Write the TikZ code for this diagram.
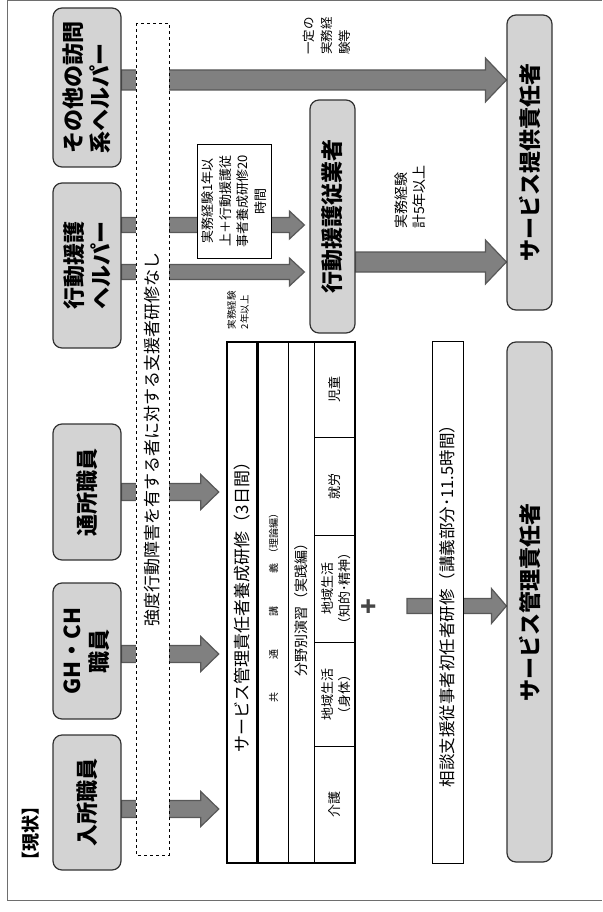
\documentclass[tikz,border=0pt]{standalone}
\usepackage{fontspec}
\setmainfont{Noto Sans CJK JP}
\usetikzlibrary{calc,backgrounds}

\definecolor{boxgray}{RGB}{211,211,211}
\definecolor{boxline}{RGB}{50,50,50}
\definecolor{arrowgray}{RGB}{128,128,128}
\definecolor{arrowline}{RGB}{88,88,88}
\definecolor{framegray}{RGB}{110,110,110}
\definecolor{plusgray}{RGB}{70,70,70}

\tikzset{
  fatarrow/.style n args={3}{fill=arrowgray, draw=arrowline, line width=1.2pt,
    to path={let \p1=(\tikztostart), \p2=(\tikztotarget) in
      (\x1,\y1+#1) -- (\x2-#3,\y1+#1) -- (\x2-#3,\y1+#2) -- (\x2,\y1)
      -- (\x2-#3,\y1-#2) -- (\x2-#3,\y1-#1) -- (\x1,\y1-#1) -- cycle}},
  bigarrow/.style={fatarrow={10pt}{22pt}{21pt}},
  midarrow/.style={fatarrow={8.5pt}{17.5pt}{18pt}},
  smallarrow/.style={fatarrow={7.5pt}{14pt}{15pt}},
}

\begin{document}
\begin{tikzpicture}[x=1pt,y=-1pt]
    \useasboundingbox (0,0) rectangle (602,912);
    \draw[framegray, line width=1.2pt] (602,0.6) -- (7.5,0.6) -- (7.5,900.5) -- (602,900.5);

    \node[rotate=90, font=\fontsize{18}{18}\selectfont\bfseries] (genjo) at (31,833) {【現状】};

    \begin{scope}[every node/.style={rotate=90, draw=boxline, line width=1.2pt, fill=boxgray,
                  rounded corners=9pt, inner sep=0pt, font=\fontsize{22}{27}\selectfont\bfseries}]
        \node[minimum width=159pt, minimum height=68pt, align=left] (sonota) at (87,87.5) {その他の訪問\\系ヘルパー};
        \node[minimum width=165pt, minimum height=68pt, align=left] (kodohelper) at (87,265.5) {行動援護\\ヘルパー};
        \node[minimum width=136pt, minimum height=68pt] (tsusho) at (87,492) {通所職員};
        \node[minimum width=136pt, minimum height=68pt, align=center] (ghch) at (87,651) {GH・CH\\職員};
        \node[minimum width=135pt, minimum height=68pt] (nyusho) at (87,802.5) {入所職員};
        \node[minimum width=233pt, minimum height=45pt] (kodojugyo) at (332.5,216.5) {行動援護従業者};
        \node[minimum width=295pt, minimum height=45pt] (teikyo) at (529.5,162.5) {サービス提供責任者};
        \node[minimum width=520pt, minimum height=45pt] (kanri) at (529.5,602) {サービス管理責任者};
    \end{scope}

    \node[rotate=90, draw, dashed, fill=white, minimum width=832pt, minimum height=33pt, inner sep=0pt,
          font=\fontsize{17}{20}\selectfont] (kyodo) at (152.5,439) {強度行動障害を有する者に対する支援者研修なし};

    \node[rotate=90, draw, line width=0.8pt, fill=white, minimum width=114pt, minimum height=74pt, inner sep=0pt,
          align=center, font=\fontsize{13}{17.5}\selectfont] (note1) at (234,201) {実務経験1年以\\上＋行動援護従\\事者養成研修20\\時間};

    \begin{scope}[every node/.style={rotate=90, align=left, inner sep=0pt}]
        \node[font=\fontsize{12.5}{18}\selectfont] (ittei) at (327,36) {一定の\\実務経\\験等};
        \node[font=\fontsize{14}{18}\selectfont] (keiken5) at (410,197) {実務経験\\計5年以上};
        \node[font=\fontsize{9.5}{13}\selectfont] (keiken2) at (238,310) {実務経験\\2年以上};
    \end{scope}

    \node[rotate=90, draw, line width=2.5pt, minimum width=521pt, minimum height=128pt, inner sep=0pt] (yosei) at (291,602.5) {};
    \draw[line width=2.5pt] (257.5,342) -- (257.5,863);
    \draw[line width=0.9pt] (288,342) -- (288,863);
    \draw[line width=0.9pt] (314,342) -- (314,863);
    \foreach \yy in {437,535,642,746}
        \draw[line width=0.9pt] (314,\yy) -- (355,\yy);

    \begin{scope}[every node/.style={rotate=90, align=center, inner sep=0pt}]
        \node[font=\fontsize{17}{20}\selectfont] (yoseititle) at (242.5,603) {サービス管理責任者養成研修（3日間）};
        \node[font=\fontsize{10}{12}\selectfont] (kyotsu) at (273.5,605) {共\hspace{3.3em}通\hspace{3.3em}講\hspace{3.3em}義\hspace{0.5em}（理論編）};
        \node[font=\fontsize{14}{16}\selectfont] (bunya) at (301,606) {分野別演習（実践編）};
        \node[font=\fontsize{13}{17}\selectfont] (jido) at (334.5,389.5) {児童};
        \node[font=\fontsize{13}{17}\selectfont] (shuro) at (334.5,486) {就労};
        \node[font=\fontsize{13}{17}\selectfont] (chiteki) at (336,588.5) {地域生活\\（知的･精神）};
        \node[font=\fontsize{13}{17}\selectfont] (shintai) at (336,694) {地域生活\\（身体）};
        \node[font=\fontsize{13}{17}\selectfont] (kaigo) at (334.5,804.5) {介護};
    \end{scope}

    \node[rotate=90, font=\fontsize{26}{26}\selectfont\bfseries, text=plusgray, inner sep=0pt] (plus) at (370,607) {+};

    \node[rotate=90, draw, line width=0.9pt, fill=white, minimum width=522pt, minimum height=31pt, inner sep=0pt,
          font=\fontsize{16.5}{18}\selectfont] (soudan) at (447.5,602) {相談支援従事者初任者研修（講義部分･11.5時間）};

    \coordinate (sonotaout) at ([yshift=7.5pt]sonota.south);
    \coordinate (helperup) at ([yshift=40.5pt]kodohelper.south);
    \coordinate (helperdown) at ([yshift=-6.5pt]kodohelper.south);
    \coordinate (jugyoout) at ([yshift=-45.5pt]kodojugyo.south);
    \coordinate (ghchout) at ([yshift=-3pt]ghch.south);
    \coordinate (nyushoout) at ([yshift=-6.5pt]nyusho.south);
    \coordinate (plusout) at (407,606);

    \begin{pgfonlayer}{background}
        \path[bigarrow] (sonotaout) to (teikyo.north |- sonotaout);
        \path[bigarrow] (jugyoout) to (teikyo.north |- jugyoout);
        \path[smallarrow] (helperup) to ([xshift=-5pt]kodojugyo.north |- helperup);
        \path[smallarrow] (helperdown) to ([xshift=-5pt]kodojugyo.north |- helperdown);
        \path[midarrow] (tsusho.south) to ([xshift=-7pt]yosei.north |- tsusho.south);
        \path[midarrow] (ghchout) to ([xshift=-7pt]yosei.north |- ghchout);
        \path[midarrow] (nyushoout) to ([xshift=-7pt]yosei.north |- nyushoout);
        \path[fatarrow={7.5pt}{17.5pt}{15pt}] (plusout) to (kanri.north |- plusout);
    \end{pgfonlayer}
\end{tikzpicture}
\end{document}
